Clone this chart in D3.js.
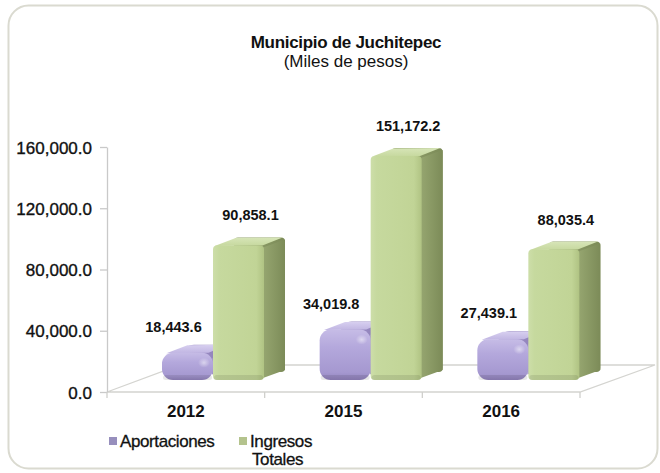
<!DOCTYPE html>
<html>
<head>
<meta charset="utf-8">
<script src="https://cdn.jsdelivr.net/npm/d3@7"></script>
<style>
  html, body { margin: 0; padding: 0; background: #ffffff; }
  svg { display: block; font-family: "Liberation Sans", Arial, sans-serif; }
</style>
</head>
<body>
<svg id="chart" width="660" height="473"></svg>
<script>
// ---- data ----
const categories = ["2012", "2015", "2016"];
const aportaciones = [18443.6, 34019.8, 27439.1];
const ingresosTotales = [90858.1, 151172.2, 88035.4];
const seriesNames = ["Aportaciones", "Ingresos Totales"];
const yTicks = [0, 40000, 80000, 120000, 160000];
const titleText = "Municipio de Juchitepec";
const subtitleText = "(Miles de pesos)";

// ---- layout ----
const svg = d3.select("#chart");
const floorFrontY = 392, floorLeft = 107, floorRight = 580;
const depth = [73, -27];          // floor depth vector
const barBase = 380;              // front bottom of bars (mid-depth)
const barDepth = [21, -8];

const defs = svg.append("defs");
function lin(id, x2, y2, stops) {
  const g = defs.append("linearGradient").attr("id", id)
    .attr("x1", 0).attr("y1", 0).attr("x2", x2).attr("y2", y2);
  stops.forEach(s => g.append("stop").attr("offset", s[0]).attr("stop-color", s[1]));
}
lin("gFront", 1, 0, [[0, "#cddea9"], [0.12, "#c6d99e"], [0.85, "#c1d496"], [1, "#b0c383"]]);
lin("gSide", 1, 0, [[0, "#96a670"], [1, "#7c8b58"]]);
lin("gTop", 0, 1, [[0, "#d7e5b8"], [1, "#c6d89e"]]);
lin("pFront", 0, 1, [[0, "#c6bce6"], [0.35, "#b4a8dc"], [0.85, "#a598d0"], [1, "#9282bd"]]);
lin("pSide", 1, 0, [[0, "#a193ca"], [1, "#8a7cb4"]]);
lin("pTop", 0, 1, [[0, "#d8d0f0"], [1, "#c0b5e2"]]);
const rg = defs.append("radialGradient").attr("id", "hl").attr("cx", 0.5).attr("cy", 0.5).attr("r", 0.5);
rg.append("stop").attr("offset", 0).attr("stop-color", "#ffffff").attr("stop-opacity", 0.5);
rg.append("stop").attr("offset", 1).attr("stop-color", "#ffffff").attr("stop-opacity", 0);

// outer frame
svg.append("rect").attr("x", 8.5).attr("y", 5.5).attr("width", 649).attr("height", 463)
  .attr("rx", 20).attr("fill", "#ffffff").attr("stroke", "#dadad0").attr("stroke-width", 2);

// title
svg.append("text").attr("x", 346).attr("y", 48).attr("text-anchor", "middle")
  .attr("font-size", 17).attr("font-weight", "bold").attr("fill", "#111")
  .attr("letter-spacing", -0.3).text(titleText);
svg.append("text").attr("x", 346).attr("y", 67).attr("text-anchor", "middle")
  .attr("font-size", 17).attr("fill", "#111").text(subtitleText);

// scales
const yAxisScale = d3.scaleLinear().domain([0, 160000]).range([floorFrontY, 147]);
const yBar = d3.scaleLinear().domain([0, 160000]).range([barBase, 143]);
const xBand = d3.scaleBand().domain(categories).range([floorLeft, floorRight]);
const xSeries = d3.scaleBand().domain(seriesNames).range([55, 157]);

// floor
const floor = [
  [floorLeft, floorFrontY],
  [floorLeft + depth[0], floorFrontY + depth[1]],
  [floorRight + depth[0] + 2, floorFrontY + depth[1]],
  [floorRight, floorFrontY]
];
svg.append("path").attr("d", "M" + floor.map(p => p.join(",")).join("L") + "Z")
  .attr("fill", "#ffffff").attr("stroke", "#d4d4d0").attr("stroke-width", 1.3);

// y axis
const yAxis = d3.axisLeft(yAxisScale).tickValues(yTicks)
  .tickFormat(d3.format(",.1f")).tickSize(7).tickSizeOuter(0).tickPadding(8);
const gy = svg.append("g").attr("transform", `translate(${floorLeft},0)`).call(yAxis);
gy.select(".domain").attr("stroke", "#c9c9c9").attr("stroke-width", 1.3);
gy.selectAll(".tick line").attr("stroke", "#c9c9c9").attr("stroke-width", 1.3);
gy.selectAll(".tick text").attr("font-size", 17).attr("fill", "#111")
  .attr("stroke", "#111").attr("stroke-width", 0.35)
  .attr("font-family", "Liberation Sans, Arial, sans-serif").attr("dy", "0.36em");

// category axis
const xAxis = d3.axisBottom(xBand).tickSize(0).tickPadding(13);
const gx = svg.append("g").attr("transform", `translate(0,${floorFrontY})`).call(xAxis);
gx.select(".domain").remove();
gx.selectAll(".tick text").attr("font-size", 17).attr("font-weight", "bold").attr("fill", "#111")
  .attr("font-family", "Liberation Sans, Arial, sans-serif");
const edges = categories.map(c => xBand(c)).concat([xBand.range()[1]]);
svg.append("g").selectAll("line").data(edges).join("line")
  .attr("x1", d => d).attr("x2", d => d).attr("y1", floorFrontY).attr("y2", floorFrontY + 6)
  .attr("stroke", "#d0d0cc").attr("stroke-width", 1.3);

// bars
const seriesData = [
  { name: seriesNames[0], values: aportaciones, key: "p", r: 11, dx: -14, dy: -21 },
  { name: seriesNames[1], values: ingresosTotales, key: "g", r: 4, dx: 12, dy: -25 }
];
const bw = xSeries.bandwidth();
const barsG = svg.append("g");
const poly = pts => "M" + pts.map(p => p.join(",")).join("L") + "Z";
categories.forEach((c, ci) => {
  seriesData.forEach(s => {
    const v = s.values[ci];
    const x0 = xBand(c) + xSeries(s.name);
    const x1 = x0 + bw;
    const yt = yBar(v);
    const yb = barBase;
    const h = yb - yt;
    const [ddx, ddy] = barDepth;
    const r = Math.min(s.r, h / 2);
    const g = barsG.append("g");
    // back shape (gives rounded silhouette)
    g.append("rect").attr("x", x0 + ddx).attr("y", yt + ddy).attr("width", bw).attr("height", h)
      .attr("rx", r).attr("fill", `url(#${s.key}Side)`);
    // side connector
    g.append("path").attr("d", poly([[x1 - 1, yt + r * 0.5], [x1 + ddx, yt + ddy + r * 0.5],
      [x1 + ddx, yb + ddy - r * 0.5], [x1 - 1, yb - r * 0.5]])).attr("fill", `url(#${s.key}Side)`);
    // top connector
    g.append("path").attr("d", poly([[x0 + r * 0.4, yt + 0.5], [x0 + ddx + r * 0.4, yt + ddy + 0.5],
      [x1 + ddx - r * 0.6, yt + ddy], [x1 - r * 0.4, yt]])).attr("fill", `url(#${s.key}Top)`);
    // front face
    g.append("rect").attr("x", x0).attr("y", yt).attr("width", bw).attr("height", h)
      .attr("rx", r).attr("fill", `url(#${s.key}Front)`);
    // bottom shade
    g.append("rect").attr("x", x0 + 1).attr("y", yb - 5).attr("width", bw - 2).attr("height", 5)
      .attr("rx", 2.5).attr("fill", "#000").attr("opacity", 0.09);
    if (s.key === "p") {
      g.append("ellipse").attr("cx", x1 - 9).attr("cy", yt + 10).attr("rx", 6).attr("ry", 5)
        .attr("fill", "url(#hl)");
    }
    // label
    svg.append("text").attr("x", x0 + bw / 2 + s.dx).attr("y", yt + s.dy)
      .attr("text-anchor", "middle").attr("font-size", 14.5).attr("font-weight", "bold")
      .attr("fill", "#111").text(d3.format(",.1f")(v));
  });
});

// legend
const legend = svg.append("g");
const legendItems = [
  { lines: ["Aportaciones"], color: "#978fbd", x: 109 },
  { lines: ["Ingresos", "Totales"], color: "#b4c38d", x: 239 }
];
legendItems.forEach(it => {
  legend.append("rect").attr("x", it.x).attr("y", 437).attr("width", 8).attr("height", 8).attr("fill", it.color);
  const t = legend.append("text").attr("x", it.x + 11).attr("y", 447).attr("font-size", 17)
    .attr("fill", "#111").attr("stroke", "#111").attr("stroke-width", 0.3).attr("letter-spacing", -0.4);
  it.lines.forEach((ln, i) => {
    t.append("tspan").attr("x", it.x + 11 + (i ? 2 : 0)).attr("dy", i ? 18 : 0).text(ln);
  });
});
</script>
</body>
</html>
